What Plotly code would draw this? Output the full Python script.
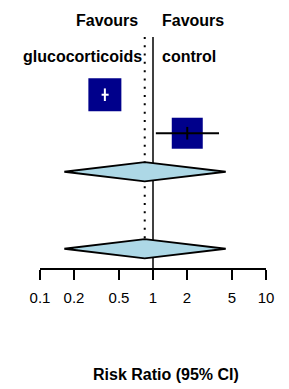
import math
import plotly.graph_objects as go

# ---- data ----
study_rr = [0.375, 2.01]
study_lo = [0.351, 1.06]
study_hi = [0.405, 3.84]
study_row = [1, 2]
summary_rr = [0.845, 0.845]
summary_lo = [0.164, 0.164]
summary_hi = [4.40, 4.40]
summary_row = [3, 5]
tick_vals = [0.1, 0.2, 0.5, 1, 2, 5, 10]
tick_text = ["0.1", "0.2", "0.5", "1", "2", "5", "10"]
left_labels = ["Favours", "glucocorticoids"]
right_labels = ["Favours", "control"]
x_title = "Risk Ratio (95% CI)"

# ---- styles ----
box_px = [33, 31]
ci_colors = ["white", "black"]
FONT = "Liberation Sans, Arial, sans-serif"

fig = go.Figure()

# reference lines (under everything)
fig.add_trace(go.Scatter(x=[1, 1], y=[-0.5, 5.5], mode="lines",
                         line=dict(color="black", width=1.5),
                         hoverinfo="skip", showlegend=False))
fig.add_trace(go.Scatter(x=[summary_rr[0], summary_rr[0]], y=[-0.5, 5], mode="lines",
                         line=dict(color="black", width=2, dash="2px,6.3px"),
                         hoverinfo="skip", showlegend=False))

# summary diamonds
h = 0.25
for rr, lo, hi, row in zip(summary_rr, summary_lo, summary_hi, summary_row):
    fig.add_trace(go.Scatter(x=[lo, rr, hi, rr, lo], y=[row, row - h, row, row + h, row],
                             mode="lines", fill="toself", fillcolor="#ADD8E6",
                             line=dict(color="black", width=1.8),
                             hoverinfo="skip", showlegend=False))

# study boxes
for i in range(len(study_rr)):
    fig.add_trace(go.Scatter(x=[study_rr[i]], y=[study_row[i]], mode="markers",
                             marker=dict(symbol="square", size=box_px[i], color="#00008B",
                                         line=dict(width=0)),
                             hoverinfo="skip", showlegend=False))
    fig.add_trace(go.Scatter(x=[study_lo[i], study_hi[i]], y=[study_row[i], study_row[i]],
                             mode="lines", line=dict(color=ci_colors[i], width=2),
                             hoverinfo="skip", showlegend=False))
    fig.add_trace(go.Scatter(x=[study_rr[i]], y=[study_row[i]], mode="markers",
                             marker=dict(symbol="line-ns", size=9,
                                         line=dict(color=ci_colors[i], width=2)),
                             hoverinfo="skip", showlegend=False))

annotations = []
lx = [math.log10(0.767), math.log10(0.83)]
rx = math.log10(1.15)
ly = [-0.93, 0.0]
for t, x, y in zip(left_labels, lx, ly):
    annotations.append(dict(text=t, x=x, y=y, xref="x", yref="y", xanchor="right",
                            yanchor="middle", showarrow=False,
                            font=dict(family=FONT, size=16, color="black", weight="bold")))
for t, y in zip(right_labels, ly):
    annotations.append(dict(text=t, x=rx, y=y, xref="x", yref="y", xanchor="left",
                            yanchor="middle", showarrow=False,
                            font=dict(family=FONT, size=16, color="black", weight="bold")))
annotations.append(dict(text=x_title, x=0.556, y=-0.396, xref="paper", yref="paper",
                        xanchor="center", yanchor="middle", showarrow=False,
                        font=dict(family=FONT, size=16, color="black", weight="bold")))

fig.update_layout(
    width=289, height=389,
    margin=dict(l=40, r=23, t=0, b=121, pad=0),
    paper_bgcolor="white", plot_bgcolor="white",
    showlegend=False,
    annotations=annotations,
    xaxis=dict(type="log", range=[-1, 1], showline=True, linecolor="black", linewidth=1.5,
               ticks="outside", ticklen=10, tickwidth=1.5, tickcolor="black",
               tickvals=tick_vals, ticktext=tick_text, showgrid=False, zeroline=False,
               ticklabelstandoff=5,
               tickfont=dict(family=FONT, size=15, color="black"), fixedrange=True),
    yaxis=dict(range=[5.5, -1.46], visible=False, fixedrange=True),
)

fig.write_html("out.html", config={"displayModeBar": False},
               post_script="document.body.style.margin='0';document.body.style.overflow='hidden';")
